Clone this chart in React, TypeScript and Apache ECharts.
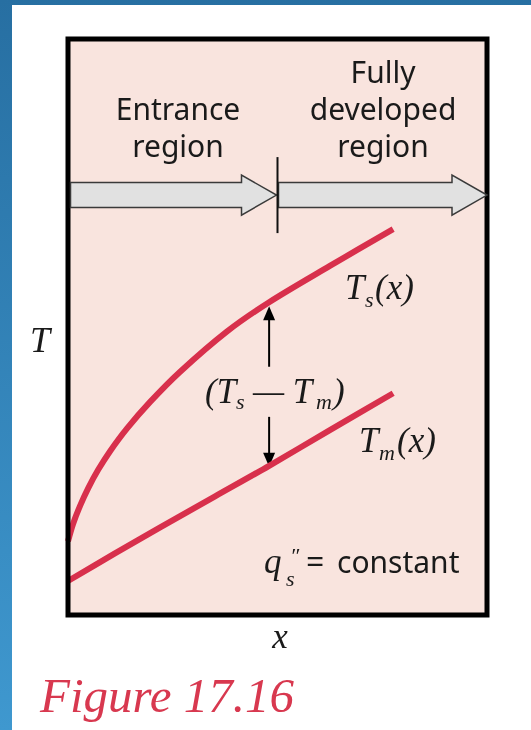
import React, { useEffect, useRef } from "react";
import * as echarts from "echarts";

const WIDTH = 531;
const HEIGHT = 730;

// Axis extents: axial distance x and temperature T, arbitrary units
const X_RANGE = [0, 10];
const T_RANGE = [0, 10];

// Surface temperature Ts(x): steep rise near the inlet, linear once fully developed
const tsX = [0, 0.12, 0.29, 0.48, 0.72, 1.0, 1.41, 1.96, 2.67, 3.79, 4.8, 6.25, 7.76];
const tsT = [1.28, 1.58, 1.9, 2.2, 2.52, 2.84, 3.24, 3.7, 4.22, 4.92, 5.43, 6.06, 6.7];

// Mean fluid temperature Tm(x)
const tmX = [0, 1.12, 2.2, 3.51, 4.8, 6.25, 7.76];
const tmT = [0.59, 1.07, 1.52, 2.06, 2.59, 3.21, 3.85];

// End of the entrance region along x
const entranceLength = 5.0;
// Temperature level at which the flow-direction arrows are drawn
const flowLevel = 7.29;
// Position of the (Ts − Tm) indicator and where its two arrows start
const gapX = 4.8;
const gapArrowStartUpper = 4.31;
const gapArrowStartLower = 3.44;

// Text labels
const entranceLines = ["Entrance", "region"];
const developedLines = ["Fully", "developed", "region"];
const figureTitle = "Figure 17.16";

const SANS = "'Noto Sans', 'Open Sans', sans-serif";
const SERIF = "'Liberation Serif', 'DejaVu Serif', serif";
const INK = "#1a1a1a";
const RED = "#d8304c";

// vertical offset from the em-box centre to the alphabetic baseline
const K_SANS = 0.388;
const K_SERIF = 0.3375;

type TextOpts = {
  size: number;
  serif?: boolean;
  italic?: boolean;
  align?: "left" | "center" | "right";
  fill?: string;
};

function label(text: string, x: number, baseline: number, o: TextOpts) {
  const k = o.serif ? K_SERIF : K_SANS;
  return {
    type: "text",
    x,
    y: baseline - k * o.size,
    z: 10,
    silent: true,
    style: {
      text,
      fontSize: o.size,
      fontFamily: o.serif ? SERIF : SANS,
      fontStyle: o.italic ? "italic" : "normal",
      fill: o.fill || INK,
      align: o.align || "left",
      verticalAlign: "middle",
    },
  };
}

export default function App() {
  const ref = useRef<HTMLDivElement>(null);

  useEffect(() => {
    if (!ref.current) return;
    const chart = echarts.init(ref.current, null, {
      renderer: "svg",
      width: WIDTH,
      height: HEIGHT,
    });

    const curve = (xs: number[], ts: number[], name: string) => ({
      name,
      type: "line",
      data: xs.map((x, i) => [x, ts[i]]),
      smooth: 0.3,
      symbol: "none",
      lineStyle: { color: RED, width: 6 },
      z: 4,
    });

    chart.setOption({
      animation: false,
      grid: {
        left: 68,
        top: 39,
        width: 419,
        height: 576,
        show: true,
        backgroundColor: "#f9e4de",
        borderWidth: 0,
      },
      xAxis: { type: "value", min: X_RANGE[0], max: X_RANGE[1], show: false },
      yAxis: { type: "value", min: T_RANGE[0], max: T_RANGE[1], show: false },
      series: [curve(tsX, tsT, "Ts(x)"), curve(tmX, tmT, "Tm(x)")],
    });

    const px = (x: number, t: number) =>
      chart.convertToPixel({ gridIndex: 0 }, [x, t]) as number[];

    const [gl, gt] = px(X_RANGE[0], T_RANGE[1]);
    const [gr, gb] = px(X_RANGE[1], T_RANGE[0]);

    // flow arrows across the top of the duct
    const [divX, rowY] = px(entranceLength, flowLevel);
    const shaftH = 12.5;
    const headH = 20;
    const headL = 35;
    const blockArrow = (x0: number, tip: number) => ({
      type: "polygon",
      z: 6,
      silent: true,
      shape: {
        points: [
          [x0, rowY - shaftH],
          [tip - headL, rowY - shaftH],
          [tip - headL, rowY - headH],
          [tip, rowY],
          [tip - headL, rowY + headH],
          [tip - headL, rowY + shaftH],
          [x0, rowY + shaftH],
        ],
      },
      style: { fill: "#e1e1e1", stroke: "#3a3a3a", lineWidth: 1.5 },
    });

    // (Ts − Tm) indicator arrows
    const tsAtGap = tsT[tsX.indexOf(gapX)];
    const tmAtGap = tmT[tmX.indexOf(gapX)];
    const [gx, upTip0] = px(gapX, tsAtGap);
    const [, upStart] = px(gapX, gapArrowStartUpper);
    const [, downTip0] = px(gapX, tmAtGap);
    const [, downStart] = px(gapX, gapArrowStartLower);
    const upTip = upTip0 + 4;
    const downTip = downTip0 + 1;
    const headW = 6;
    const headLen = 14;

    const graphic: any[] = [
      // page backdrop: blue edge and white sheet
      {
        type: "rect",
        z: -3,
        silent: true,
        shape: { x: 0, y: 0, width: WIDTH, height: HEIGHT },
        style: {
          fill: new echarts.graphic.LinearGradient(0, 0, 0, 1, [
            { offset: 0, color: "#276fa2" },
            { offset: 1, color: "#3f98cf" },
          ]),
        },
      },
      {
        type: "rect",
        z: -2,
        silent: true,
        shape: { x: 12, y: 5, width: WIDTH - 12, height: HEIGHT - 5 },
        style: { fill: "#ffffff" },
      },
      // duct frame
      {
        type: "rect",
        z: 5,
        silent: true,
        shape: { x: gl, y: gt, width: gr - gl, height: gb - gt },
        style: { fill: "none", stroke: "#000", lineWidth: 5 },
      },
      blockArrow(gl + 2.5, divX - 1),
      blockArrow(divX + 1, gr),
      {
        type: "line",
        z: 7,
        silent: true,
        shape: { x1: divX, y1: rowY - 38, x2: divX, y2: rowY + 38 },
        style: { stroke: "#111", lineWidth: 2 },
      },
      {
        type: "line",
        z: 3,
        silent: true,
        shape: { x1: gx, y1: upStart, x2: gx, y2: upTip + headLen - 1 },
        style: { stroke: "#000", lineWidth: 2 },
      },
      {
        type: "polygon",
        z: 3,
        silent: true,
        shape: {
          points: [
            [gx, upTip],
            [gx - headW, upTip + headLen],
            [gx + headW, upTip + headLen],
          ],
        },
        style: { fill: "#000" },
      },
      {
        type: "line",
        z: 3,
        silent: true,
        shape: { x1: gx, y1: downStart, x2: gx, y2: downTip - headLen + 1 },
        style: { stroke: "#000", lineWidth: 2 },
      },
      {
        type: "polygon",
        z: 3,
        silent: true,
        shape: {
          points: [
            [gx, downTip],
            [gx - headW, downTip - headLen],
            [gx + headW, downTip - headLen],
          ],
        },
        style: { fill: "#000" },
      },
    ];

    // region captions
    const capSize = 30;
    const lineGap = 37;
    entranceLines.forEach((s, i) => {
      const base = 157 - (entranceLines.length - 1 - i) * lineGap;
      graphic.push(label(s, 178, base, { size: capSize, align: "center" }));
    });
    developedLines.forEach((s, i) => {
      const base = 157 - (developedLines.length - 1 - i) * lineGap;
      graphic.push(label(s, 383, base, { size: capSize, align: "center" }));
    });

    const it = { serif: true, italic: true };
    const main = 35;
    const sub = 22;

    // axis titles
    graphic.push(label("T", 30, 352, { ...it, size: 36 }));
    graphic.push(label("x", 280, 648, { ...it, size: main, align: "center" }));

    // Ts(x)
    graphic.push(label("T", 345, 299, { ...it, size: main }));
    graphic.push(label("s", 365, 307, { ...it, size: sub }));
    graphic.push(label("(x)", 375, 299, { ...it, size: main }));

    // Tm(x)
    graphic.push(label("T", 359, 452, { ...it, size: main }));
    graphic.push(label("m", 379, 460, { ...it, size: sub }));
    graphic.push(label("(x)", 397, 452, { ...it, size: main }));

    // (Ts — Tm)
    graphic.push(label("(T", 205, 403, { ...it, size: main }));
    graphic.push(label("s", 236, 409, { ...it, size: sub }));
    graphic.push(label("\u2014 T", 253, 403, { ...it, size: main }));
    graphic.push(label("m", 316, 409, { ...it, size: sub }));
    graphic.push(label(")", 333, 403, { ...it, size: main }));

    // q''s = constant
    graphic.push(label("q", 264, 573, { ...it, size: main }));
    graphic.push(label("\u2033", 290, 563, { ...it, size: 22 }));
    graphic.push(label("s", 286, 586, { ...it, size: sub }));
    graphic.push(label("=", 306, 573, { size: 32 }));
    graphic.push(label("constant", 337, 573, { size: capSize }));

    // figure caption
    graphic.push(
      label(figureTitle, 40, 712, { ...it, size: 49, fill: "#d8384f" })
    );

    chart.setOption({ graphic });

    return () => chart.dispose();
  }, []);

  return (
    <div
      ref={ref}
      style={{
        position: "fixed",
        left: 0,
        top: 0,
        width: WIDTH,
        height: HEIGHT,
      }}
    />
  );
}
